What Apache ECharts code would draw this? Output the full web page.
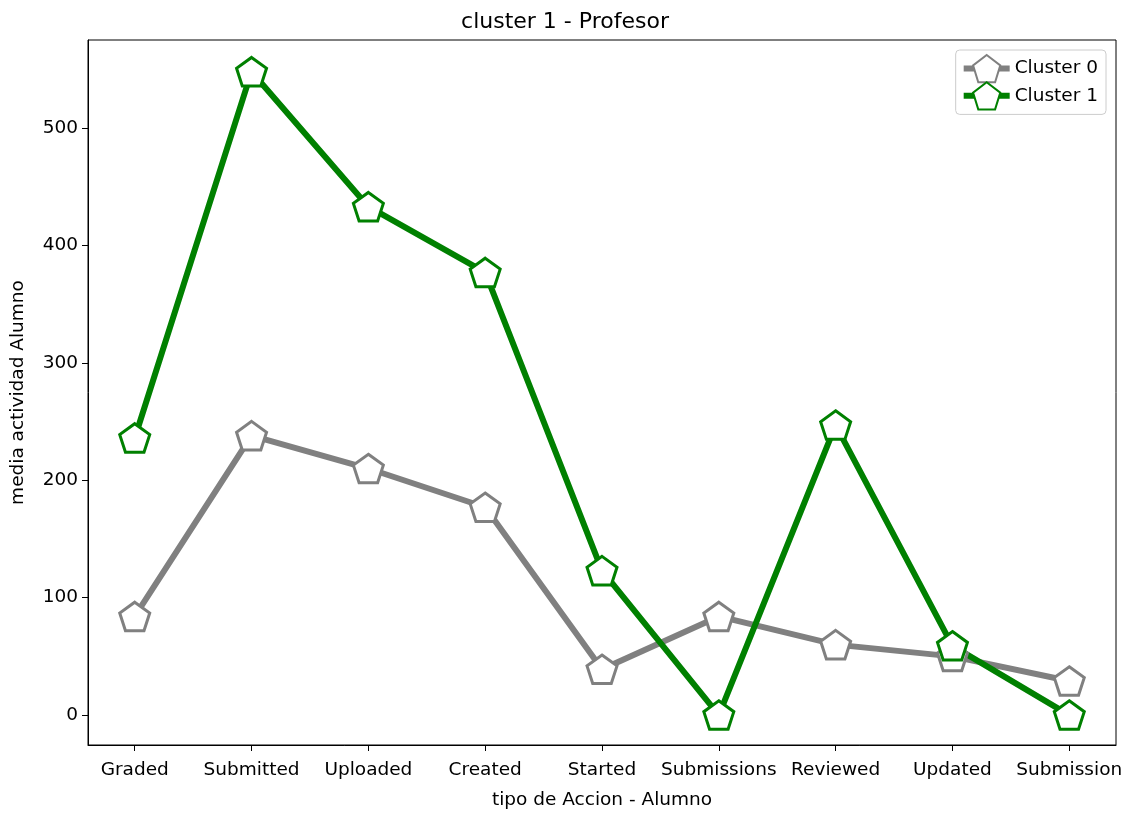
<!DOCTYPE html>
<html>
<head>
<meta charset="utf-8">
<script src="https://cdn.jsdelivr.net/npm/echarts@6/dist/echarts.min.js"></script>
<style>
  html, body { margin: 0; padding: 0; background: #fff; }
  #chart { width: 1130px; height: 814px; }
</style>
</head>
<body>
<div id="chart"></div>
<script>
// tick labels along x
var acciones = ['Graded', 'Submitted', 'Uploaded', 'Created', 'Started', 'Submissions', 'Reviewed', 'Updated', 'Submission'];
// mean activity per cluster
var cluster0 = [84, 238, 210, 177, 39, 84, 60, 50, 29];
var cluster1 = [236, 548, 433, 377, 123, 0, 247, 59, 0];
var yTicks = [0, 100, 200, 300, 400, 500];
var xTicks = [0, 1, 2, 3, 4, 5, 6, 7, 8];

var pentagon = 'path://M0,-1 L0.951,-0.309 L0.588,0.809 L-0.588,0.809 L-0.951,-0.309 Z';
var font = 'DejaVu Sans';

function pts(vals) {
    return vals.map(function (v, i) { return [i, v]; });
}

function serie(name, color, vals) {
    return {
        name: name,
        type: 'line',
        data: pts(vals),
        symbol: pentagon,
        symbolSize: 30,
        symbolKeepAspect: true,
        showAllSymbol: true,
        lineStyle: { color: color, width: 6 },
        itemStyle: { color: '#fff', borderColor: color, borderWidth: 3 },
        emphasis: { disabled: true },
        animation: false
    };
}

var chart = echarts.init(document.getElementById('chart'));
chart.setOption({
    animation: false,
    title: {
        text: 'cluster 1 - Profesor',
        left: 'center',
        top: 6,
        textStyle: { fontFamily: font, fontSize: 22, fontWeight: 'normal', color: '#000' }
    },
    legend: {
        orient: 'vertical',
        right: 24,
        top: 50,
        padding: [4, 8, 4, 5],
        itemGap: -2,
        itemWidth: 46,
        itemHeight: 34,
        borderColor: '#ccc',
        borderWidth: 1,
        borderRadius: 4,
        lineStyle: { width: 6 },
        textStyle: { fontFamily: font, fontSize: 18.5, color: '#000' },
        data: ['Cluster 0', 'Cluster 1']
    },
    grid: {
        left: 88, right: 14, top: 40, bottom: 69,
        outerBoundsMode: 'none',
        containLabel: false,
        show: true, borderColor: '#000', borderWidth: 1, backgroundColor: 'transparent'
    },
    xAxis: {
        type: 'value',
        min: -0.4,
        max: 8.4,
        name: 'tipo de Accion - Alumno',
        nameLocation: 'middle',
        nameGap: 46,
        nameTextStyle: { fontFamily: font, fontSize: 18.5, color: '#000' },
        axisLine: { show: true, onZero: false, lineStyle: { color: '#000' } },
        axisTick: { show: true, length: 6, lineStyle: { color: '#000' }, customValues: xTicks },
        splitLine: { show: false },
        axisLabel: {
            fontFamily: font, fontSize: 18.5, color: '#000', margin: 16,
            customValues: xTicks,
            formatter: function (v) { return acciones[Math.round(v)]; }
        }
    },
    yAxis: {
        type: 'value',
        min: -25.5,
        max: 575,
        name: 'media actividad Alumno',
        nameLocation: 'middle',
        nameGap: 60,
        nameTextStyle: { fontFamily: font, fontSize: 18.5, color: '#000' },
        axisLine: { show: true, onZero: false, lineStyle: { color: '#000' } },
        axisTick: { show: true, length: 6, lineStyle: { color: '#000' }, customValues: yTicks },
        splitLine: { show: false },
        axisLabel: {
            fontFamily: font, fontSize: 18.5, color: '#000', margin: 10,
            customValues: yTicks
        }
    },
    series: [
        serie('Cluster 0', '#808080', cluster0),
        serie('Cluster 1', '#008000', cluster1)
    ]
});
</script>
</body>
</html>
